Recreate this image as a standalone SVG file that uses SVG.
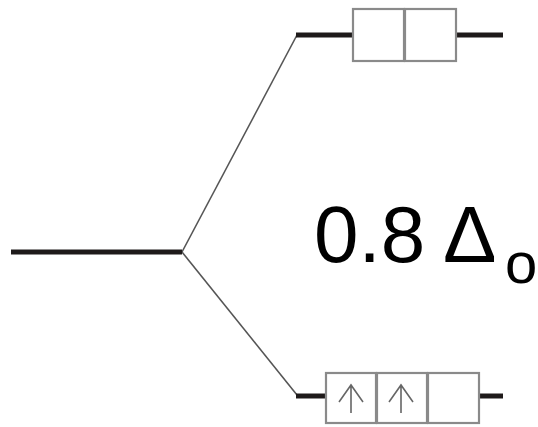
<svg xmlns="http://www.w3.org/2000/svg" width="538" height="427" viewBox="0 0 538 427">
  <style>
    .level { stroke: #1e1a1a; stroke-width: 5; fill: none; }
    .link { stroke: #555; stroke-width: 1.6; fill: none; }
    .box { stroke: #8a8a8a; stroke-width: 2.2; fill: #fff; }
    .spin { stroke: #666; stroke-width: 1.6; fill: none; }
    .label { font-family: "Liberation Sans", Arial, sans-serif; fill: #000; }
  </style>
  <rect width="538" height="427" fill="#fff"/>

  <g id="connectors">
    <path class="link" d="M182 252 L297 35"/>
    <path class="link" d="M182 252 L297 395"/>
  </g>

  <g id="free-ion">
    <line class="level" x1="11" y1="252" x2="182" y2="252"/>
  </g>

  <g id="upper-level">
    <line class="level" x1="296" y1="35" x2="353" y2="35"/>
    <line class="level" x1="456" y1="35" x2="503" y2="35"/>
    <rect class="box" x="353" y="9" width="51" height="52"/>
    <rect class="box" x="405" y="9" width="51" height="52"/>
  </g>

  <g id="lower-level">
    <line class="level" x1="296" y1="396" x2="326" y2="396"/>
    <line class="level" x1="479" y1="396" x2="503" y2="396"/>
    <rect class="box" x="326" y="373" width="50" height="50"/>
    <rect class="box" x="377" y="373" width="50" height="50"/>
    <rect class="box" x="428" y="373" width="51" height="50"/>
    <path class="spin" d="M351 413 V385 M339 402 L351 385 L363 402"/>
    <path class="spin" d="M401 413 V385 M389 402 L401 385 L413 402"/>
  </g>

  <g id="splitting-label">
    <text class="label" x="314" y="262" font-size="80">0.8 Δ</text>
    <text class="label" x="505" y="283" font-size="58">o</text>
  </g>
</svg>
